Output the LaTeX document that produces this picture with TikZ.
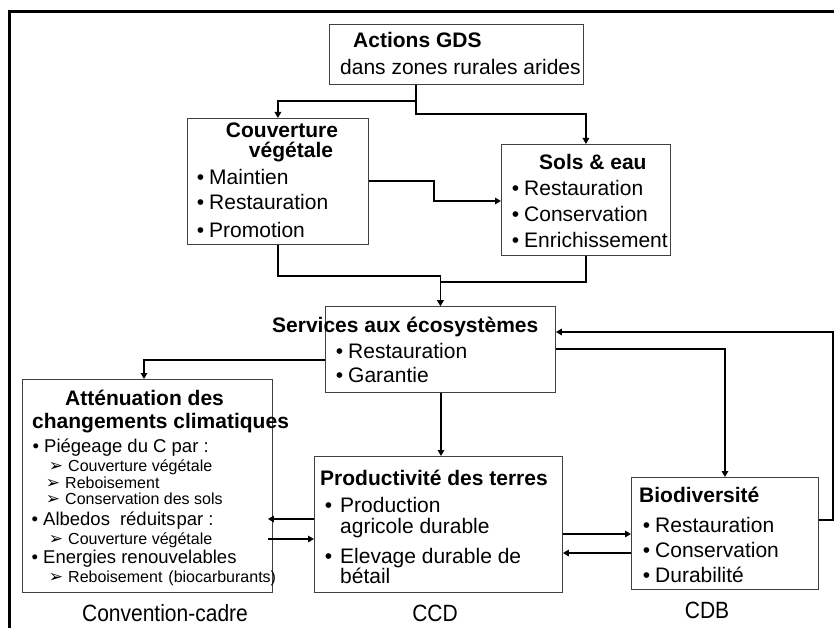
\documentclass[tikz,border=0pt]{standalone}
\usepackage{fontspec}
\setmainfont{Liberation Sans}
\newfontfamily\djv{DejaVu Sans}
\usetikzlibrary{arrows.meta}
\newcommand\mybul[1]{\llap{•\hspace{#1}}}
\newcommand\myarr{\llap{{\djv\fontsize{17}{19}\selectfont ➢}\hspace{5pt}}}
\newcommand\tallbox[1]{\scalebox{1}[1.12]{#1}}
\begin{document}
\begin{tikzpicture}[x=1pt,y=-1pt,
 box/.style={draw=black!75, line width=0.9pt, inner sep=0pt, anchor=north west},
 conn/.style={line width=1.5pt, -{Triangle[length=6pt,width=6.5pt]}},
 frame/.style={line width=3pt},
 txt/.style={inner sep=0pt, anchor=base west, font=\fontsize{21}{25}\selectfont},
 ttl/.style={txt, font=\fontsize{21}{25}\selectfont\bfseries},
 sm/.style={txt, font=\fontsize{18.5}{22}\selectfont},
 xs/.style={txt, font=\fontsize{16}{19}\selectfont}]
\useasboundingbox (0,0) rectangle (834,628);
\draw[frame] (836,12) -- (9,12) -- (9,630);

% boxes
\node[box, minimum width=254pt, minimum height=60pt] (act) at (329,24) {};
\node[box, minimum width=181pt, minimum height=126pt] (cv) at (187,118) {};
\node[box, minimum width=169pt, minimum height=111pt] (sols) at (501,144) {};
\node[box, minimum width=230pt, minimum height=86pt] (srv) at (325,306) {};
\node[box, minimum width=250pt, minimum height=213pt] (att) at (22,379) {};
\node[box, minimum width=248pt, minimum height=136pt] (prod) at (314,456) {};
\node[box, minimum width=187pt, minimum height=112pt] (bio) at (631,477) {};

% Actions
\node[ttl] (actT) at (353,48) {Actions GDS};
\node[txt] (actS) at (340,75) {dans zones rurales arides};
% Couverture
\node[ttl, anchor=base] (cvT1) at (282,138) {Couverture};
\node[ttl, anchor=base] (cvT2) at (291,158) {végétale};
\node[txt] (cv1) at (209,185) {\mybul{5pt}Maintien};
\node[txt] (cv2) at (209,210) {\mybul{5pt}Restauration};
\node[txt] (cv3) at (209,237) {\mybul{5pt}Promotion};
% Sols
\node[ttl] (solsT) at (539,170) {Sols \& eau};
\node[txt] (sols1) at (524,196) {\mybul{5pt}Restauration};
\node[txt] (sols2) at (524,222) {\mybul{5pt}Conservation};
\node[txt] (sols3) at (524,247) {\mybul{5pt}Enrichissement};
% Services
\node[ttl] (srvT) at (272,332) {Services aux écosystèmes};
\node[txt] (srv1) at (348,358) {\mybul{5pt}Restauration};
\node[txt] (srv2) at (348,382) {\mybul{5pt}Garantie};
% Attenuation
\node[ttl] (attT1) at (65,405) {Atténuation des};
\node[ttl] (attT2) at (32,428) {changements climatiques};
\node[sm] (att1) at (44,452) {\mybul{5pt}Piégeage du C par :};
\node[xs] (att1a) at (68,471) {\myarr Couverture végétale};
\node[xs] (att1b) at (65,488) {\myarr Reboisement};
\node[xs] (att1c) at (65,504) {\myarr Conservation des sols};
\node[sm] (att2) at (43,525) {\mybul{5pt}Albedos\hspace{10pt}réduits\hspace{1pt}par :};
\node[xs] (att2a) at (68,544) {\myarr Couverture végétale};
\node[sm] (att3) at (43,563) {\mybul{5pt}Energies renouvelables};
\node[xs] (att3a) at (68,582) {\myarr Reboisement\hspace{6pt}(biocarburants)};
% Productivite
\node[ttl] (prodT) at (320,485) {Productivité des terres};
\node[txt] (prod1) at (340,512) {\mybul{8pt}Production};
\node[txt] (prod1b) at (340,533) {agricole durable};
\node[txt] (prod2) at (340,563) {\mybul{8pt}Elevage durable de};
\node[txt] (prod2b) at (340,583) {bétail};
% Biodiversite
\node[ttl] (bioT) at (639,502) {Biodiversité};
\node[txt] (bio1) at (655,532) {\mybul{5pt}Restauration};
\node[txt] (bio2) at (655,557) {\mybul{5pt}Conservation};
\node[txt] (bio3) at (655,582) {\mybul{5pt}Durabilité};
% bottom labels
\node[txt, anchor=base] (lbl1) at (165,621) {\tallbox{Convention-cadre}};
\node[txt, anchor=base] (lbl2) at (435,621) {\tallbox{CCD}};
\node[txt, anchor=base] (lbl3) at (707,618) {\tallbox{CDB}};

% connectors
\coordinate (attin) at ([xshift=-5pt]att.east);
\draw[conn] (act.south -| 416,0) -- (416,101) -| (cv.north);
\draw[conn] (act.south -| 416,0) -- (416,114) -| (sols.north);
\draw[conn] (cv.east |- 0,181) -| (434,201) -- (sols.west |- 0,201);
\draw[conn] (cv.south) -- (cv.south |- 0,276) -| (srv.north);
\draw[conn] (sols.south) -- (sols.south |- 0,282) -| (srv.north);
\draw[conn] (srv.west |- 0,360) -| (att.north -| 144,0);
\draw[conn] (srv.south -| 441,0) -- (prod.north -| 441,0);
\draw[conn] (srv.east |- 0,349) -| (bio.north);
\draw[conn] (bio.east |- 0,520) -- (833,520) |- (srv.east |- 0,332);
\draw[conn] (prod.west |- 0,519) -- (attin |- 0,519);
\draw[conn] (attin |- 0,539) -- (prod.west |- 0,539);
\draw[conn] (prod.east |- 0,534) -- (bio.west |- 0,534);
\draw[conn] (bio.west |- 0,553) -- (prod.east |- 0,553);
\end{tikzpicture}
\end{document}
